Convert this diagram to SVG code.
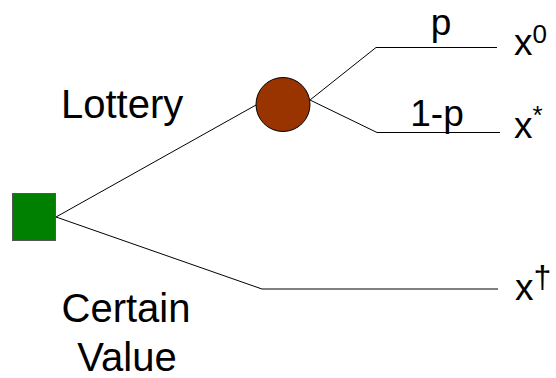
<svg xmlns="http://www.w3.org/2000/svg" width="556" height="378" viewBox="0 0 556 378">
<style>
.ln{fill:none;stroke:#000;stroke-width:1}
.lbl{font-family:"Liberation Sans",Arial,sans-serif;font-size:40px;fill:#000}
.out{font-family:"Liberation Sans",Arial,sans-serif;font-size:37px;fill:#000}
.sup{font-size:26px}
</style>
<rect width="556" height="378" fill="#fff"/>
<g id="connectors">
<polyline class="ln" points="56,217 256,105"/>
<polyline class="ln" points="56,217 262,289 498,289"/>
<polyline class="ln" points="310,100 376,47.5 497,47.5"/>
<polyline class="ln" points="310,100 377,132.5 500,132.5"/>
</g>
<g id="decision">
<rect x="12.5" y="193.5" width="43" height="47" fill="#008000" stroke="#555" stroke-width="1"/>
</g>
<g id="chance">
<circle cx="283" cy="104.5" r="27" fill="#993300" stroke="#000" stroke-width="1"/>
</g>
<g id="label-lottery"><text class="lbl" x="61" y="118">Lottery</text></g>
<g id="label-certain"><text class="lbl" x="126" y="322" text-anchor="middle">Certain</text><text class="lbl" x="127" y="371" text-anchor="middle">Value</text></g>
<g id="label-p"><text class="out" x="441" y="35" text-anchor="middle">p</text></g>
<g id="label-1p"><text class="out" x="437" y="126" text-anchor="middle">1-p</text></g>
<g id="out-x0"><text class="out" x="514" y="55">x<tspan class="sup" dy="-12">0</tspan></text></g>
<g id="out-xstar"><text class="out" x="514" y="138">x<tspan class="sup" dy="-14">*</tspan></text></g>
<g id="out-xdagger"><text class="out" x="515" y="300">x<tspan class="sup" dy="-12" style="font-size:32px">†</tspan></text></g>
</svg>
